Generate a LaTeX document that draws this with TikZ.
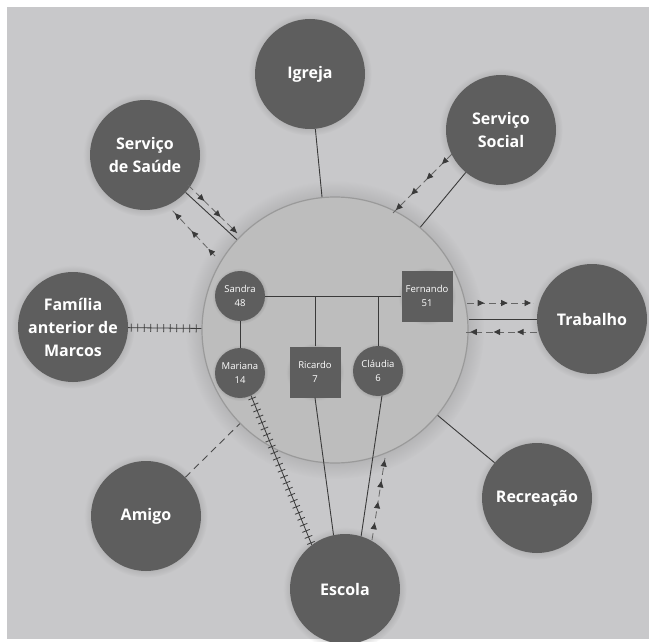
\documentclass[tikz,border=0pt]{standalone}
\usepackage{fontspec}
\setmainfont{Open Sans}
\usetikzlibrary{arrows.meta,decorations.markings,shadows}
\definecolor{panel}{HTML}{C8C8CA}
\definecolor{bigfill}{HTML}{BDBDBD}
\definecolor{bigedge}{HTML}{9A9A9A}
\definecolor{nodefill}{HTML}{5E5E5E}
\definecolor{linecol}{HTML}{3A3A3A}
\definecolor{dashcol}{HTML}{4A4A4A}
\definecolor{flowcol}{HTML}{666666}
\begin{document}
\begin{tikzpicture}[x=1pt,y=-1pt,
  halo/.style={circular drop shadow={shadow xshift=0pt, shadow yshift=0pt, shadow scale=1.12, opacity=0.35}},
  outer/.style={circle, fill=nodefill, text=white, minimum size=110pt, inner sep=0pt, align=center,
    font=\bfseries\fontsize{16}{23}\selectfont, halo},
  person/.style={fill=nodefill, text=white, inner sep=0pt, align=center,
    font=\fontsize{9.5}{13.5}\selectfont, halo},
  female/.style={person, circle, minimum size=50pt},
  male/.style={person, rectangle, minimum size=51pt},
  tie/.style={draw=linecol, line width=0.9pt},
  hatch/.style={draw=linecol, line width=0.8pt, postaction={decorate},
    decoration={markings, mark=between positions 3pt and 1 step 6.5pt with
      {\draw[linecol, line width=0.8pt] (0pt,-4pt) -- (0pt,4pt);}}},
  weak/.style={draw=dashcol, line width=0.9pt, dash pattern=on 7pt off 5pt},
  flow/.style 2 args={draw=flowcol, line width=0.8pt, dash pattern=on 7pt off 4pt,
    postaction={decorate},
    decoration={markings, mark=between positions #1 and 1 step #2 with
      {\arrow[linecol]{Triangle[length=6.5pt,width=6pt]}}}}
]
\useasboundingbox (0,0) rectangle (649,642);
\fill[white] (0,0) rectangle (649,642);
\fill[panel] (7,7) rectangle (649,639);

% central household circle
\node[circle, fill=bigfill, draw=bigedge, line width=1.2pt, minimum size=266pt, inner sep=0pt, halo] (C) at (335,330) {};

% outer systems
\node[outer] (igreja) at (310,74) {Igreja};
\node[outer] (social) at (501,130) {Serviço\\Social};
\node[outer] (saude) at (145,155) {Serviço\\de Saúde};
\node[outer] (familia) at (73,327) {Família\\anterior de\\Marcos};
\node[outer] (trabalho) at (592,319) {Trabalho};
\node[outer] (amigo) at (146,516) {Amigo};
\node[outer] (recreacao) at (537,498) {Recreação};
\node[outer] (escola) at (345,589) {Escola};

% family members
\node[female] (sandra) at (240,296) {Sandra\\48};
\node[male] (fernando) at (427,296) {Fernando\\51};
\node[female] (mariana) at (240,373) {Mariana\\14};
\node[male] (ricardo) at (315,372) {Ricardo\\7};
\node[female] (claudia) at (378,371) {Cláudia\\6};

% family ties
\draw[tie] (sandra) -- (fernando);
\draw[tie] (sandra) -- (mariana);
\draw[tie] (ricardo) -- (ricardo |- sandra);
\draw[tie] (claudia) -- (claudia |- sandra);

% system connectors
\draw[tie] (igreja) -- (C);
\draw[tie] (social) -- (C);
\draw[tie] (saude) -- (C);
\draw[tie] (trabalho.west) -- (trabalho.west -| C.east);
\draw[tie] (recreacao) -- (C);
\draw[tie] (ricardo.south) -- (escola.102);
\draw[tie] (claudia.279) -- (escola.73);
\draw[hatch] (familia) -- (C);
\draw[hatch] (mariana.-64) -- (escola.127);
\draw[weak] (amigo) -- (C);

% energy flows
\coordinate (su1) at (188,185); \coordinate (su2) at (237,233);
\coordinate (sl1) at (215,256); \coordinate (sl2) at (171,209);
\coordinate (so1) at (452,154); \coordinate (so2) at (393,213);
\coordinate (tu1) at (467,303); \coordinate (tu2) at (533,303);
\coordinate (tl1) at (537,332); \coordinate (tl2) at (466,332);
\coordinate (ec1) at (372,540); \coordinate (ec2) at (385,458);
\draw[flow={0.33}{0.333}] (su1) -- (su2);
\draw[flow={0.15}{0.38}] (sl1) -- (sl2);
\draw[flow={0.17}{0.26}] (so1) -- (so2);
\draw[flow={0.26}{0.355}] (tu1) -- (tu2);
\draw[flow={0.28}{0.33}] (tl1) -- (tl2);
\draw[flow={0.21}{0.255}] (ec1) -- (ec2);
\end{tikzpicture}
\end{document}
